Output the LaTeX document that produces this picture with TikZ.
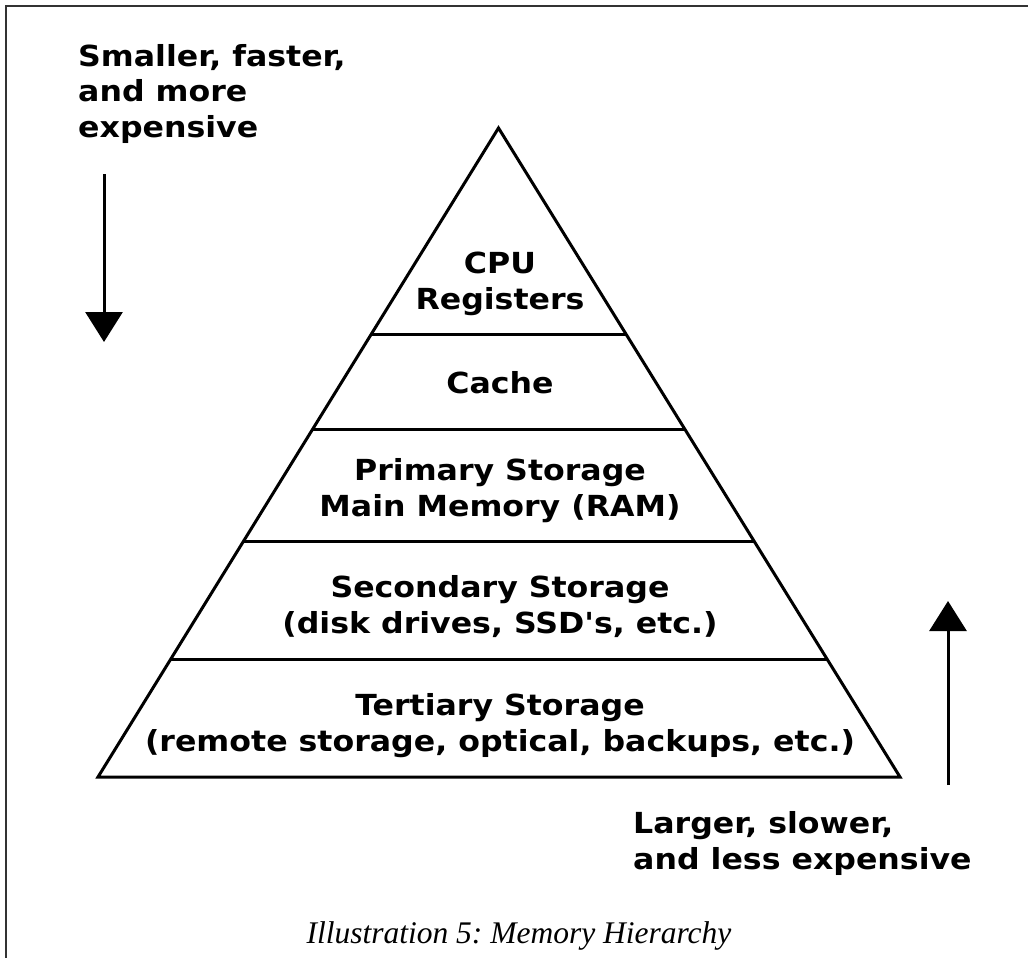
\documentclass[tikz,border=0pt]{standalone}
\usepackage{fontspec}
\setmainfont{DejaVu Sans}
\newfontfamily\lblfont[FakeStretch=1.09]{DejaVu Sans}
\newfontfamily\capfont{Liberation Serif}
\usetikzlibrary{arrows.meta,calc}
\frenchspacing
\begin{document}
\begin{tikzpicture}[x=1pt,y=-1pt,
  lbl/.style={font=\lblfont\bfseries\fontsize{29}{36}\selectfont, align=center, inner sep=0pt},
  side/.style={font=\lblfont\bfseries\fontsize{29}{35.5}\selectfont, align=left, inner sep=0pt},
  edge/.style={line width=3pt, line join=miter},
  bigarrow/.style={line width=3pt, -{Triangle[width=37pt,length=30pt]}},
  frame/.style={line width=2pt, draw=black!80}]
\useasboundingbox (0,0) rectangle (1028,958);
\fill[white] (0,0) rectangle (1028,958);
% frame
\draw[frame] (6,958) -- (6,6) -- (1028,6);
% pyramid
\coordinate (A) at (498.5,128);
\coordinate (BL) at (98,777);
\coordinate (BR) at (900,777);
\draw[edge] (A) -- (BL) -- (BR) -- cycle;
\foreach \t in {0.3185,0.4646,0.6369,0.8185}{
  \draw[edge] ($(A)!\t!(BL)$) -- ($(A)!\t!(BR)$);
}
% labels (anchored at the baseline of their last line)
\node[lbl, anchor=base] (cpu) at (500,309) {CPU\\Registers};
\node[lbl, anchor=base] (cache) at (500,393) {Cache};
\node[lbl, anchor=base] (prim) at (500,516) {Primary Storage\\Main Memory (RAM)};
\node[lbl, anchor=base] (sec) at (500,633) {Secondary Storage\\(disk drives, SSD\char39 s, etc.)};
\node[lbl, anchor=base] (ter) at (500,751) {Tertiary Storage\\(remote storage, optical, backups, etc.)};
% side texts
\node[side, anchor=base west] (top) at (78,137) {Smaller, faster,\\and more\\expensive};
\node[side, anchor=base west] (bot) at (633,869) {Larger, slower,\\and less expensive};
% arrows
\coordinate (d1) at (104,174);
\coordinate (d2) at (104,342);
\coordinate (u1) at (948,785);
\coordinate (u2) at (948,601);
\draw[bigarrow] (d1) -- (d2);
\draw[bigarrow] (u1) -- (u2);
% caption
\node[font=\capfont\itshape\fontsize{31.5}{36}\selectfont, anchor=base, inner sep=0pt] (cap) at (519,943) {Illustration 5: Memory Hierarchy};
\end{tikzpicture}
\end{document}
